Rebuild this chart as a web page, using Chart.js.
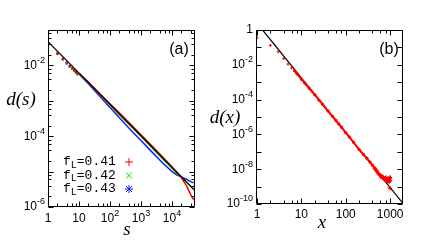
<!DOCTYPE html>
<html>
<head>
<meta charset="utf-8">
<script src="https://cdn.jsdelivr.net/npm/chart.js@4.4.1/dist/chart.umd.min.js"></script>
<style>
html, body { margin: 0; padding: 0; background: #fff; }
#wrap { position: relative; width: 436px; height: 243px; }
#boxA { position: absolute; left: 0; top: 0; }
#boxB { position: absolute; left: 200px; top: 0; }
</style>
</head>
<body>
<div id="wrap">
  <div id="boxA"><canvas id="chartA" width="200" height="243"></canvas></div>
  <div id="boxB"><canvas id="chartB" width="236" height="243"></canvas></div>
</div>
<script>
// panel (a): d(s) for three f_L values
const aS = [1, 2, 3, 4, 5, 6, 7, 8, 9, 10, 20, 50, 100, 200, 500, 1000, 2000, 5000, 10000, 15000, 20000, 30000, 40000, 50000];
const aRed = [0.046, 0.022, 0.0155, 0.0120, 0.0098, 0.0084, 0.0074, 0.0066, 0.0059, 0.0060, 0.00339, 0.00151, 8.3e-4, 4.57e-4, 2.04e-4, 1.10e-4, 5.9e-5, 2.57e-5, 1.35e-5, 9.1e-6, 6.8e-6, 3.8e-6, 2.24e-6, 1.58e-6];
const aGreen = [0.045, 0.0215, 0.0150, 0.0117, 0.0095, 0.0081, 0.0072, 0.0064, 0.0057, 0.0059, 0.00324, 0.00141, 7.6e-4, 4.07e-4, 1.82e-4, 9.8e-5, 5.25e-5, 2.29e-5, 1.23e-5, 8.7e-6, 7.1e-6, 5.0e-6, 3.8e-6, 3.16e-6];
const aBlue = [0.044, 0.0210, 0.0146, 0.0113, 0.0092, 0.0079, 0.0069, 0.0062, 0.0056, 0.00575, 0.00302, 0.00126, 6.5e-4, 3.3e-4, 1.41e-4, 7.6e-5, 3.98e-5, 1.74e-5, 1.0e-5, 7.9e-6, 7.1e-6, 6.0e-6, 5.2e-6, 4.8e-6];
const aFitS = [1, 55000];
const aFitD = [0.047, 2.9e-6];
const aLegend = ['0.41', '0.42', '0.43'];
const aXTicks = [1, 10, 100, 1000, 10000];
const aXTickLabels = [['1', ''], ['10', ''], ['10', '2'], ['10', '3'], ['10', '4']];
const aYTicks = [1e-6, 1e-5, 1e-4, 1e-3, 1e-2, 1e-1];
const aYTickLabels = [[1e-6, '10', '-6'], [1e-4, '10', '-4'], [1e-2, '10', '-2']];

// panel (b): d(x)
const bHeadX = [1, 2, 3, 4, 5, 6];
const bHeadY = [0.36, 0.13, 0.056, 0.023, 0.011, 0.0066];
const bBodyX = [7, 8, 10, 12, 15, 20, 25, 30, 40, 50, 60, 70, 80, 100, 120, 150, 200, 250, 300, 350, 400, 450];
const bBodyY = [4.5e-3, 3.0e-3, 1.5e-3, 8.7e-4, 4.5e-4, 1.9e-4, 9.3e-5, 5.4e-5, 2.2e-5, 1.1e-5, 6.3e-6, 3.9e-6, 2.6e-6, 1.26e-6, 7.1e-7, 3.5e-7, 1.35e-7, 7.0e-8, 4.2e-8, 2.6e-8, 1.7e-8, 1.15e-8];
const bTailX = [450, 480, 500, 520, 550, 580, 600, 620, 650, 680, 700, 720, 750, 780, 800, 820, 850, 880, 900, 920, 950, 980, 1000, 1000, 1000];
const bTailY = [1.1e-8, 9e-9, 8e-9, 6.5e-9, 5.5e-9, 4.8e-9, 4.5e-9, 3.6e-9, 4.0e-9, 3.2e-9, 3.5e-9, 2.8e-9, 3.0e-9, 2.5e-9, 3.3e-9, 2.2e-9, 2.7e-9, 2.0e-9, 3.0e-9, 2.4e-9, 1.9e-9, 2.8e-9, 2.2e-9, 3.4e-9, 8e-10];
const bFitX = [1.34, 2000];
const bFitY = [1, 1e-10];
const bXTicks = [1, 10, 100, 1000];
const bXTickLabels = [['1', ''], ['10', ''], ['100', ''], ['1000', '']];
const bYTicks = [1e-10, 1e-9, 1e-8, 1e-7, 1e-6, 1e-5, 1e-4, 1e-3, 1e-2, 1e-1, 1];
const bYTickLabels = [[1e-10, '10', '-10'], [1e-8, '10', '-8'], [1e-6, '10', '-6'], [1e-4, '10', '-4'], [1e-2, '10', '-2'], [1, '1', '']];

const colors = ['#ff0000', '#00e000', '#1a1aff'];
const SANS = '"Liberation Sans", Arial, sans-serif';
const MONO = '"Liberation Mono", "Courier New", monospace';
const SERIF = '"Liberation Serif", "Times New Roman", serif';

const pts = (xs, ys) => xs.map((x, i) => ({ x: x, y: ys[i] }));

function minorTicks(lo, hi, mults) {
  const out = [];
  for (let d = 1e-12; d <= hi; d *= 10) {
    mults.forEach(m => { const v = d * m; if (v > lo && v < hi) out.push(v); });
  }
  return out;
}

function drawSup(ctx, base, sup, x, y, align) {
  ctx.font = '12px ' + SANS;
  const wb = ctx.measureText(base).width;
  ctx.font = '9px ' + SANS;
  const ws = sup ? ctx.measureText(sup).width : 0;
  const x0 = align === 'right' ? x - wb - ws : x - (wb + ws) / 2;
  ctx.textAlign = 'left';
  ctx.textBaseline = 'middle';
  ctx.font = '12px ' + SANS;
  ctx.fillText(base, x0, y);
  if (sup) {
    ctx.font = '9px ' + SANS;
    ctx.fillText(sup, x0 + wb, y - 5);
  }
}

function drawSym(ctx, kind, x, y, color) {
  ctx.strokeStyle = color;
  ctx.lineWidth = 1;
  ctx.beginPath();
  if (kind === 0 || kind === 2) {
    ctx.moveTo(x - 4, y); ctx.lineTo(x + 4, y);
    ctx.moveTo(x, y - 4); ctx.lineTo(x, y + 4);
  }
  if (kind === 1 || kind === 2) {
    ctx.moveTo(x - 3, y - 3); ctx.lineTo(x + 3, y + 3);
    ctx.moveTo(x - 3, y + 3); ctx.lineTo(x + 3, y - 3);
  }
  ctx.stroke();
}

function framePlugin(cfg) {
  return {
    id: 'frame',
    afterDraw(chart) {
      const ctx = chart.ctx, a = chart.chartArea;
      const xs = chart.scales.x, ys = chart.scales.y;
      const L = Math.round(a.left) + 0.5, R = Math.round(a.right) - 0.5;
      const T = Math.round(a.top) + 0.5, B = Math.round(a.bottom) - 0.5;
      ctx.save();
      ctx.strokeStyle = '#000';
      ctx.lineWidth = 1;
      ctx.beginPath();
      ctx.rect(L, T, R - L, B - T);
      const xt = (v, len) => {
        const p = Math.round(xs.getPixelForValue(v)) + 0.5;
        ctx.moveTo(p, B); ctx.lineTo(p, B - len);
        ctx.moveTo(p, T); ctx.lineTo(p, T + len);
      };
      const yt = (v, len) => {
        const p = Math.round(ys.getPixelForValue(v)) + 0.5;
        ctx.moveTo(L, p); ctx.lineTo(L + len, p);
        ctx.moveTo(R, p); ctx.lineTo(R - len, p);
      };
      cfg.xMajor.forEach(v => xt(v, 5));
      cfg.xMinor.forEach(v => xt(v, 3));
      cfg.yMajor.forEach(v => yt(v, 5));
      cfg.yMinor.forEach(v => yt(v, 3));
      ctx.stroke();

      ctx.fillStyle = '#000';
      cfg.xLabels.forEach((lab, i) => drawSup(ctx, lab[0], lab[1], xs.getPixelForValue(cfg.xMajor[i]), a.bottom + cfg.xLabelGap, 'center'));
      cfg.yLabels.forEach(lab => drawSup(ctx, lab[1], lab[2], a.left - 3, ys.getPixelForValue(lab[0]), 'right'));
      cfg.texts.forEach(t => {
        ctx.font = t.font;
        ctx.textAlign = 'center';
        ctx.textBaseline = 'middle';
        ctx.fillText(t.text, t.x, t.y);
      });
      if (cfg.legend) cfg.legend(ctx);
      ctx.restore();
    }
  };
}

function logScale(min, max, ticks, size) {
  return {
    type: 'logarithmic',
    min: min,
    max: max,
    grid: { display: false },
    border: { display: false },
    ticks: { display: false },
    afterBuildTicks: s => { s.ticks = ticks.map(v => ({ value: v })); },
    afterFit: s => { if (s.isHorizontal()) s.height = size; else s.width = size; }
  };
}

const hideHead = ctx => (ctx.p0.parsed.x < 9.5 ? 'rgba(0,0,0,0)' : undefined);
const headDots = ctx => (ctx.raw && ctx.raw.x < 9.5 ? 1.2 : 0);

function curve(label, ys, color) {
  return {
    label: label,
    data: pts(aS, ys),
    showLine: true,
    borderColor: color,
    backgroundColor: color,
    borderWidth: 1.5,
    pointRadius: headDots,
    pointBorderWidth: 0,
    segment: { borderColor: hideHead }
  };
}

new Chart(document.getElementById('chartA'), {
  type: 'scatter',
  data: {
    datasets: [
      { label: 'fit', data: pts(aFitS, aFitD), showLine: true, borderColor: '#000', borderWidth: 1.2, pointRadius: 0 },
      curve('0.41', aRed, colors[0]),
      curve('0.42', aGreen, colors[1]),
      curve('0.43', aBlue, colors[2])
    ]
  },
  options: {
    responsive: false,
    animation: false,
    devicePixelRatio: 1,
    layout: { padding: { left: 0, top: 30, right: 5, bottom: 0 } },
    plugins: { legend: { display: false }, tooltip: { enabled: false } },
    scales: {
      x: logScale(1, 55000, aXTicks, 36),
      y: logScale(1e-6, 0.1, aYTicks, 48)
    }
  },
  plugins: [framePlugin({
    xMajor: aXTicks,
    xMinor: minorTicks(1, 55000, [2, 4, 6, 8]),
    yMajor: aYTicks,
    yMinor: minorTicks(1e-6, 0.1, [2, 4, 6, 8]),
    xLabels: aXTickLabels,
    xLabelGap: 12,
    yLabels: aYTickLabels,
    texts: [
      { text: 'd(s)', x: 21, y: 100, font: 'italic 19px ' + SERIF },
      { text: 's', x: 127, y: 230, font: 'italic 19px ' + SERIF },
      { text: '(a)', x: 179, y: 50, font: '16px ' + SANS }
    ],
    legend(ctx) {
      aLegend.forEach((lab, i) => {
        const y = 162 + i * 13.5;
        ctx.fillStyle = '#000';
        ctx.textAlign = 'left';
        ctx.textBaseline = 'middle';
        ctx.font = '13px ' + MONO;
        ctx.fillText('f', 63, y);
        let x = 63 + ctx.measureText('f').width;
        ctx.font = '10px ' + MONO;
        ctx.fillText('L', x, y + 3);
        x += ctx.measureText('L').width;
        ctx.font = '13px ' + MONO;
        ctx.fillText('=' + lab, x, y);
        drawSym(ctx, i, 129, y, colors[i]);
      });
    }
  })]
});

new Chart(document.getElementById('chartB'), {
  type: 'scatter',
  data: {
    datasets: [
      { label: 'head', data: pts(bHeadX, bHeadY), pointStyle: 'cross', pointRadius: 1.5, borderColor: colors[0], borderWidth: 1 },
      { label: 'body', data: pts(bBodyX, bBodyY), showLine: true, pointStyle: 'cross', pointRadius: 1.5, borderColor: colors[0], borderWidth: 2 },
      { label: 'tail', data: pts(bTailX, bTailY), pointStyle: 'cross', pointRadius: 2, borderColor: colors[0], borderWidth: 1.4 },
      { label: 'fit', data: pts(bFitX, bFitY), showLine: true, borderColor: '#000', borderWidth: 1.2, pointRadius: 0 }
    ]
  },
  options: {
    responsive: false,
    animation: false,
    devicePixelRatio: 1,
    layout: { padding: { left: 0, top: 30, right: 33, bottom: 0 } },
    plugins: { legend: { display: false }, tooltip: { enabled: false } },
    scales: {
      x: logScale(0.95, 1950, bXTicks, 39),
      y: logScale(1e-10, 1, bYTicks, 56)
    }
  },
  plugins: [framePlugin({
    xMajor: bXTicks,
    xMinor: minorTicks(0.95, 1950, [2, 4, 6, 8]),
    yMajor: bYTicks,
    yMinor: [],
    xLabels: bXTickLabels,
    xLabelGap: 11,
    yLabels: bYTickLabels,
    texts: [
      { text: 'd(x)', x: 25, y: 118, font: 'italic 19px ' + SERIF },
      { text: 'x', x: 122, y: 223, font: 'italic 19px ' + SERIF },
      { text: '(b)', x: 189, y: 50, font: '16px ' + SANS }
    ]
  })]
});
</script>
</body>
</html>
